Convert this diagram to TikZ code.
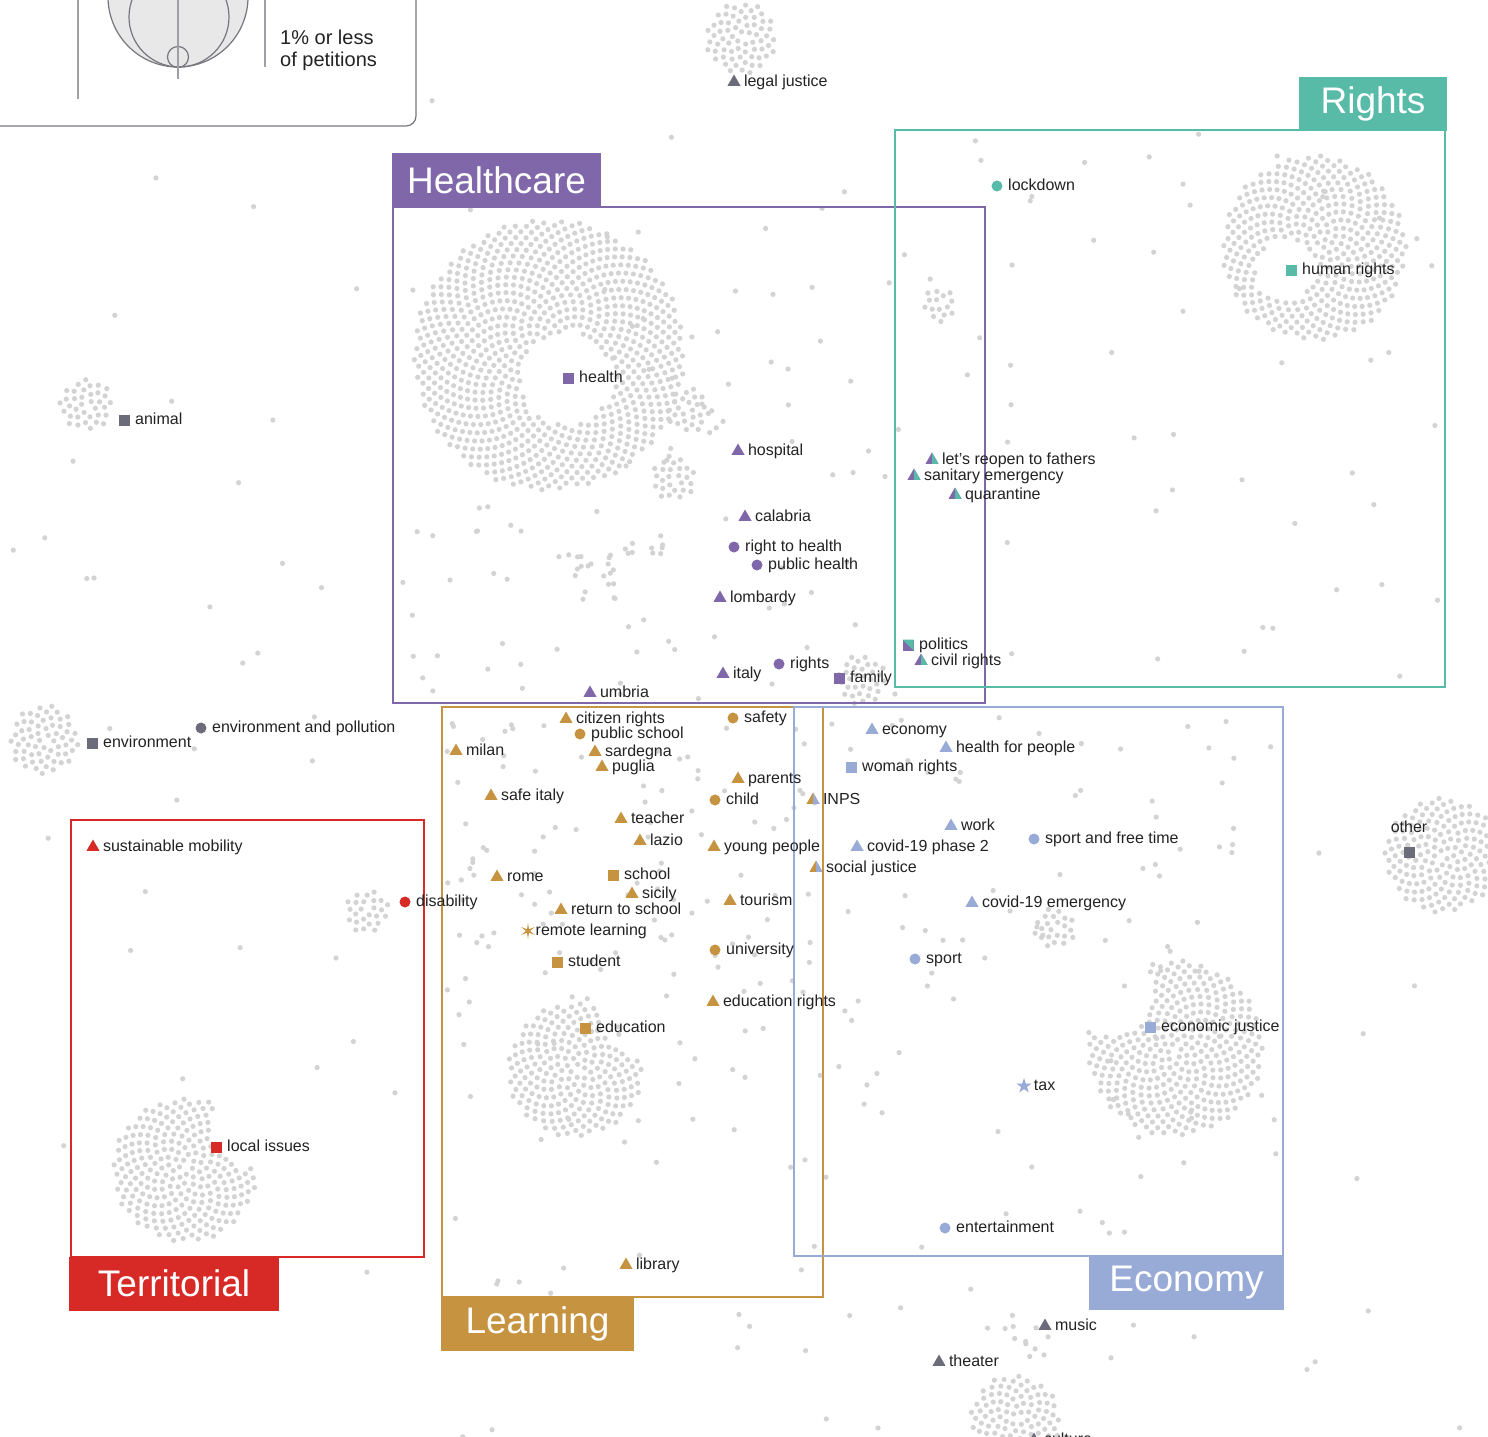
\documentclass[tikz,border=0pt]{standalone}
\usepackage{fontspec}
\setmainfont{Liberation Sans}
\usetikzlibrary{shapes.geometric}

\definecolor{hc}{HTML}{7F67AA}
\definecolor{rt}{HTML}{57BBA8}
\definecolor{tr}{HTML}{D72A27}
\definecolor{ln}{HTML}{C69341}
\definecolor{ec}{HTML}{98AAD6}
\definecolor{gy}{HTML}{6C6B79}
\definecolor{dotc}{HTML}{D3D3D3}
\definecolor{ink}{HTML}{222222}
\definecolor{lgd}{HTML}{77767F}

% packed cluster of dots (cx,cy,n, hole x,y,r)
\gdef\blobang{0}
\newcommand\blob[6]{%
  \foreach \i in {1,...,#3}{%
    \pgfmathsetmacro\ang{mod(\blobang+137.508,360)}%
    \xdef\blobang{\ang}%
    \pgfmathsetmacro\rr{4.4*sqrt(\i)}%
    \pgfmathsetmacro\px{#1+\rr*cos(\ang)}%
    \pgfmathsetmacro\py{#2+\rr*sin(\ang)}%
    \pgfmathsetmacro\dd{veclen(\px-#4,\py-#5)}%
    \ifdim\dd pt>#6pt\relax\fill[dotc] (\px,\py) circle (2.6pt);\fi
  }}
% loose dots in a box
\newcommand\sprinkle[5]{%
  \foreach \k in {1,...,#5}{%
    \pgfmathsetmacro\px{#1+rnd*(#3-#1)}%
    \pgfmathsetmacro\py{#2+rnd*(#4-#2)}%
    \fill[dotc] (\px,\py) circle (2.6pt);
  }}

\begin{document}
\begin{tikzpicture}[x=1pt,y=-1pt,
  mk/.style={inner sep=0pt, outer sep=0pt},
  tri/.style={mk, regular polygon, regular polygon sides=3, minimum size=15pt},
  tritwo/.style 2 args={tri, fill=#1, path picture={\fill[#2] (path picture bounding box.north) rectangle (path picture bounding box.south east);}},
  ball/.style={mk, circle, minimum size=11pt},
  sq/.style={mk, rectangle, minimum size=11pt},
  ast/.style={mk, star, star points=6, star point ratio=4, minimum size=16pt},
  tx/.style={font=\fontsize{16}{18}\selectfont, text=ink, inner sep=0pt, text height=10pt, text depth=2pt},
  label distance=5.5pt,
  tab/.style={mk, minimum height=54pt, text=white, font=\fontsize{37}{42}\selectfont},
  frame/.style={line width=2.2pt}]
\useasboundingbox (0,0) rectangle (1488,1437);
\pgfmathsetseed{42}

% legend
\draw[lgd, line width=1.2pt, rounded corners=10pt] (-5,126) -- (416,126) -- (416,-5);
\draw[lgd!70, line width=1.2pt] (78,-5) -- (78,99);
\draw[lgd, line width=1.2pt, fill=gray!18] (178,-3) circle (70pt);
\draw[lgd, line width=1.2pt] (179,17) circle (50pt);
\draw[lgd, line width=1.2pt] (178,57) circle (10.5pt);
\draw[lgd!70, line width=1.2pt] (178,-5) -- (178,79);
\draw[lgd!70, line width=1.2pt] (265,-5) -- (265,67);
\node[anchor=west, align=left, text=ink, inner sep=0pt, font=\fontsize{20}{22}\selectfont] (lgdtext) at (280,50) {1\% or less\\of petitions};

% clusters
\blob{741}{38}{66}{0}{0}{0}
\blob{549}{355}{950}{566}{378}{46}
\blob{1314}{248}{440}{1285}{270}{30}
\blob{86}{405}{36}{0}{0}{0}
\blob{940}{305}{15}{0}{0}{0}
\blob{688}{410}{25}{0}{0}{0}
\blob{673}{478}{26}{0}{0}{0}
\blob{44}{740}{62}{0}{0}{0}
\blob{367}{911}{25}{0}{0}{0}
\blob{1442}{855}{170}{0}{0}{0}
\blob{1175}{1048}{400}{1112}{995}{42}
\blob{575}{1070}{235}{640}{1015}{40}
\blob{185}{1170}{270}{252}{1128}{40}
\blob{1015}{1420}{105}{0}{0}{0}
\blob{1055}{928}{22}{0}{0}{0}
\blob{862}{680}{32}{0}{0}{0}

% loose dots
\sprinkle{600}{220}{900}{700}{55}
\sprinkle{400}{490}{600}{700}{25}
\sprinkle{565}{550}{615}{600}{18}
\sprinkle{625}{530}{665}{565}{10}
\sprinkle{900}{140}{1440}{680}{45}
\sprinkle{445}{710}{820}{1050}{110}
\sprinkle{445}{1050}{820}{1290}{20}
\sprinkle{800}{710}{1280}{1250}{90}
\sprinkle{0}{130}{440}{1300}{35}
\sprinkle{450}{1260}{1300}{1437}{20}
\sprinkle{985}{1310}{1050}{1375}{12}
\sprinkle{420}{100}{1300}{210}{10}
\sprinkle{1290}{690}{1488}{1437}{8}

% category frames
\draw[frame, hc] (393,207) rectangle (985,703);
\draw[frame, rt] (895,130) rectangle (1445,687);
\draw[frame, tr] (71,820) rectangle (424,1257);
\draw[frame, ln] (442,707) rectangle (823,1297);
\draw[frame, ec] (794,707) rectangle (1283,1256);
\node[tab, fill=hc, minimum width=209pt] (hctab) at (496.5,180) {Healthcare};
\node[tab, fill=rt, minimum width=148pt] (rttab) at (1373,103.5) {Rights};
\node[tab, fill=tr, minimum width=210pt] (trtab) at (174,1283.5) {Territorial};
\node[tab, fill=ln, minimum width=193pt] (lntab) at (537.5,1323.5) {Learning};
\node[tab, fill=ec, minimum width=195pt] (ectab) at (1186.5,1283) {Economy};

% uncategorised
\node[tri, fill=gy, label={[tx]right:legal justice}] (legal) at (734,82) {};
\node[sq, fill=gy, label={[tx]right:animal}] (animal) at (124,420) {};
\node[sq, fill=gy, label={[tx]right:environment}] (envir) at (92,743) {};
\node[ball, fill=gy, label={[tx]right:environment and pollution}] (pollu) at (201,728) {};
\node[sq, fill=gy, label={[tx, label distance=12pt]above:other}] (other) at (1409,852) {};
\node[tri, fill=gy, label={[tx]right:music}] (music) at (1045,1326) {};
\node[tri, fill=gy, label={[tx]right:theater}] (theater) at (939,1362) {};
\node[tri, fill=gy, label={[tx]right:culture}] (culture) at (1034,1440) {};

% healthcare
\node[sq, fill=hc, label={[tx]right:health}] (health) at (568,378) {};
\node[tri, fill=hc, label={[tx]right:hospital}] (hospital) at (738,451) {};
\node[tri, fill=hc, label={[tx]right:calabria}] (calabria) at (745,517) {};
\node[ball, fill=hc, label={[tx]right:right to health}] (rhealth) at (734,547) {};
\node[ball, fill=hc, label={[tx]right:public health}] (phealth) at (757,565) {};
\node[tri, fill=hc, label={[tx]right:lombardy}] (lombardy) at (720,598) {};
\node[tri, fill=hc, label={[tx]right:italy}] (italy) at (723,674) {};
\node[ball, fill=hc, label={[tx]right:rights}] (rights) at (779,664) {};
\node[sq, fill=hc, label={[tx]right:family}] (family) at (839,678) {};
\node[tri, fill=hc, label={[tx]right:umbria}] (umbria) at (590,693) {};

% rights
\node[ball, fill=rt, label={[tx]right:lockdown}] (lockdown) at (997,186) {};
\node[sq, fill=rt, label={[tx]right:human rights}] (hrights) at (1291,270) {};
\node[tritwo={hc}{rt}, label={[tx]right:let's reopen to fathers}] (reopen) at (932,460) {};
\node[tritwo={hc}{rt}, label={[tx]right:sanitary emergency}] (sanitary) at (914,476) {};
\node[tritwo={hc}{rt}, label={[tx]right:quarantine}] (quarant) at (955,495) {};
\node[sq, fill=hc, path picture={\fill[rt] (path picture bounding box.north west) -- (path picture bounding box.north east) -- (path picture bounding box.south east) -- cycle;}, label={[tx]right:politics}] (politics) at (908,645) {};
\node[tritwo={hc}{rt}, label={[tx]right:civil rights}] (civil) at (921,661) {};

% territorial
\node[tri, fill=tr, label={[tx]right:sustainable mobility}] (mobility) at (93,847) {};
\node[ball, fill=tr, label={[tx]right:disability}] (disab) at (405,902) {};
\node[sq, fill=tr, label={[tx]right:local issues}] (local) at (216,1147) {};

% learning
\node[tri, fill=ln, label={[tx]right:citizen rights}] (citizen) at (566,719) {};
\node[ball, fill=ln, label={[tx]right:public school}] (pschool) at (580,734) {};
\node[ball, fill=ln, label={[tx]right:safety}] (safety) at (733,718) {};
\node[tri, fill=ln, label={[tx]right:milan}] (milan) at (456,751) {};
\node[tri, fill=ln, label={[tx]right:sardegna}] (sardegna) at (595,752) {};
\node[tri, fill=ln, label={[tx]right:puglia}] (puglia) at (602,767) {};
\node[tri, fill=ln, label={[tx]right:parents}] (parents) at (738,779) {};
\node[tri, fill=ln, label={[tx]right:safe italy}] (safeit) at (491,796) {};
\node[ball, fill=ln, label={[tx]right:child}] (child) at (715,800) {};
\node[tri, fill=ln, label={[tx]right:teacher}] (teacher) at (621,819) {};
\node[tri, fill=ln, label={[tx]right:lazio}] (lazio) at (640,841) {};
\node[tri, fill=ln, label={[tx]right:young people}] (young) at (714,847) {};
\node[tri, fill=ln, label={[tx]right:rome}] (rome) at (497,877) {};
\node[sq, fill=ln, label={[tx]right:school}] (school) at (613,875) {};
\node[tri, fill=ln, label={[tx]right:sicily}] (sicily) at (632,894) {};
\node[tri, fill=ln, label={[tx]right:tourism}] (tourism) at (730,901) {};
\node[tri, fill=ln, label={[tx]right:return to school}] (return) at (561,910) {};
\node[ast, fill=ln, label={[tx]right:remote learning}] (remote) at (528,931) {};
\node[ball, fill=ln, label={[tx]right:university}] (univ) at (715,950) {};
\node[sq, fill=ln, label={[tx]right:student}] (student) at (557,962) {};
\node[tri, fill=ln, label={[tx]right:education rights}] (edurights) at (713,1002) {};
\node[sq, fill=ln, label={[tx]right:education}] (education) at (585,1028) {};
\node[tri, fill=ln, label={[tx]right:library}] (library) at (626,1265) {};
\node[tritwo={ln}{ec}, label={[tx]right:INPS}] (inps) at (813,800) {};
\node[tritwo={ln}{ec}, label={[tx]right:social justice}] (social) at (816,868) {};

% economy
\node[tri, fill=ec, label={[tx]right:economy}] (economy) at (872,730) {};
\node[tri, fill=ec, label={[tx]right:health for people}] (hpeople) at (946,748) {};
\node[sq, fill=ec, label={[tx]right:woman rights}] (woman) at (851,767) {};
\node[tri, fill=ec, label={[tx]right:work}] (work) at (951,826) {};
\node[tri, fill=ec, label={[tx]right:covid-19 phase 2}] (phase) at (857,847) {};
\node[ball, fill=ec, label={[tx]right:sport and free time}] (freetime) at (1034,839) {};
\node[tri, fill=ec, label={[tx]right:covid-19 emergency}] (covid) at (972,903) {};
\node[ball, fill=ec, label={[tx]right:sport}] (sport) at (915,959) {};
\node[sq, fill=ec, label={[tx]right:economic justice}] (ejustice) at (1150,1027) {};
\node[ast, star points=5, star point ratio=2.6, fill=ec, label={[tx]right:tax}] (tax) at (1024,1086) {};
\node[ball, fill=ec, label={[tx]right:entertainment}] (entert) at (945,1228) {};
\end{tikzpicture}
\end{document}
